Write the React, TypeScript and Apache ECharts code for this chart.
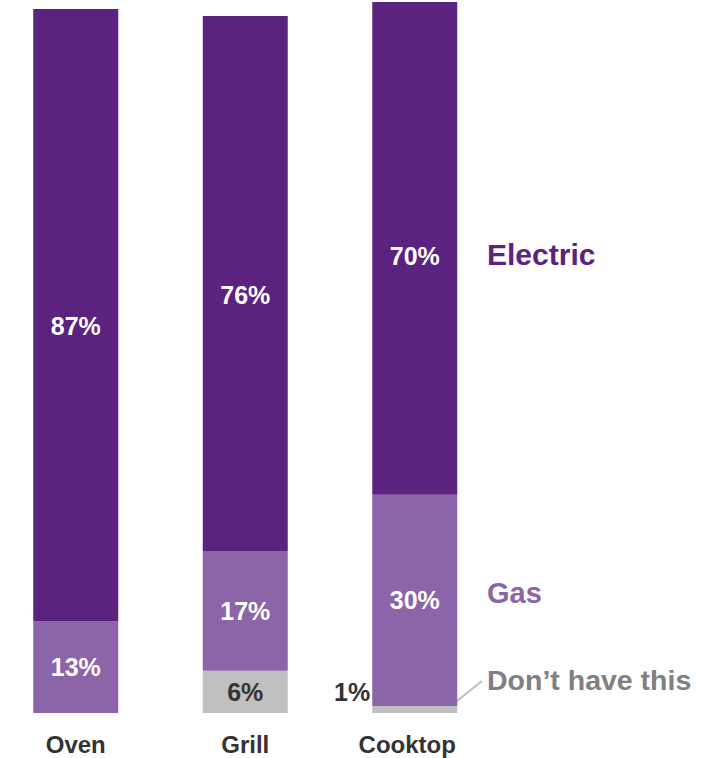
import React, { useEffect, useRef } from "react";
import * as echarts from "echarts";

const categories = ["Oven", "Grill", "Cooktop"];
const dontHave: (number | string)[] = ["-", 6, 1];
const gas = [13, 17, 30];
const electric = [87, 76, 70];
// vertical nudge of the electric value labels
const electricLabelShift = [11, 11, 8];

const FONT = "'Liberation Sans', Arial, Helvetica, sans-serif";
const C_ELECTRIC = "#5C2280";
const C_GAS = "#8C64A8";
const C_NONE = "#BFBFBF";
// the chart canvas starts this many pixels left of the page edge
const SHIFT = 9;

export default function App() {
  const ref = useRef<HTMLDivElement>(null);

  useEffect(() => {
    document.body.style.margin = "0";
    document.body.style.overflow = "hidden";
    const chart = echarts.init(ref.current!, null, { renderer: "svg" });

    const valueLabel = (color: string) => ({
      show: true,
      position: "inside" as const,
      color,
      fontSize: 25,
      fontWeight: "bold" as const,
      fontFamily: FONT,
      formatter: "{c}%",
    });

    const catFont = {
      color: "#333333",
      fontSize: 24,
      fontWeight: "bold" as const,
      fontFamily: FONT,
    };

    chart.setOption({
      animation: false,
      backgroundColor: "#ffffff",
      grid: { left: 0, right: 210.5, top: 2, bottom: 45, containLabel: false },
      xAxis: {
        type: "category",
        data: categories,
        axisLine: { show: false },
        axisTick: { show: false },
        axisLabel: {
          interval: 0,
          hideOverlap: false,
          margin: 19,
          ...catFont,
          formatter: (v: string) => (v === "Cooktop" ? `{c|${v}}` : v),
          rich: { c: { ...catFont, padding: [0, 15, 0, 0] } },
        },
      },
      yAxis: {
        type: "value",
        min: 0,
        max: 101,
        show: false,
        splitLine: { show: false },
      },
      series: [
        {
          name: "Don't have this",
          type: "bar",
          stack: "total",
          barWidth: 85,
          itemStyle: { color: C_NONE },
          label: valueLabel("#333333"),
          data: dontHave.map((v, i) =>
            i === 2
              ? {
                  value: v,
                  label: {
                    position: "left",
                    distance: 2,
                    offset: [0, -17],
                    color: "#333333",
                  },
                }
              : v
          ),
        },
        {
          name: "Gas",
          type: "bar",
          stack: "total",
          barWidth: 85,
          itemStyle: { color: C_GAS },
          label: valueLabel("#ffffff"),
          data: gas,
        },
        {
          name: "Electric",
          type: "bar",
          stack: "total",
          barWidth: 85,
          itemStyle: { color: C_ELECTRIC },
          label: valueLabel("#ffffff"),
          data: electric.map((v, i) => ({
            value: v,
            label: { offset: [0, electricLabelShift[i]] },
          })),
        },
      ],
      graphic: [
        {
          type: "text",
          left: 487 + SHIFT,
          top: 256 - 17,
          style: {
            text: "Electric",
            fill: C_ELECTRIC,
            font: `bold 30px ${FONT}`,
          },
        },
        {
          type: "text",
          left: 487 + SHIFT,
          top: 595 - 17,
          style: {
            text: "Gas",
            fill: C_GAS,
            font: `bold 29px ${FONT}`,
          },
        },
        {
          type: "text",
          left: 487 + SHIFT,
          top: 682 - 17,
          style: {
            text: "Don\u2019t have this",
            fill: "#808080",
            font: `bold 28.5px ${FONT}`,
          },
        },
        {
          type: "line",
          shape: { x1: 452 + SHIFT, y1: 705, x2: 482 + SHIFT, y2: 681 },
          style: { stroke: C_NONE, lineWidth: 2 },
        },
      ],
    });

    return () => chart.dispose();
  }, []);

  return (
    <div
      ref={ref}
      style={{ width: 710 + SHIFT, height: 758, marginLeft: -SHIFT }}
    />
  );
}
